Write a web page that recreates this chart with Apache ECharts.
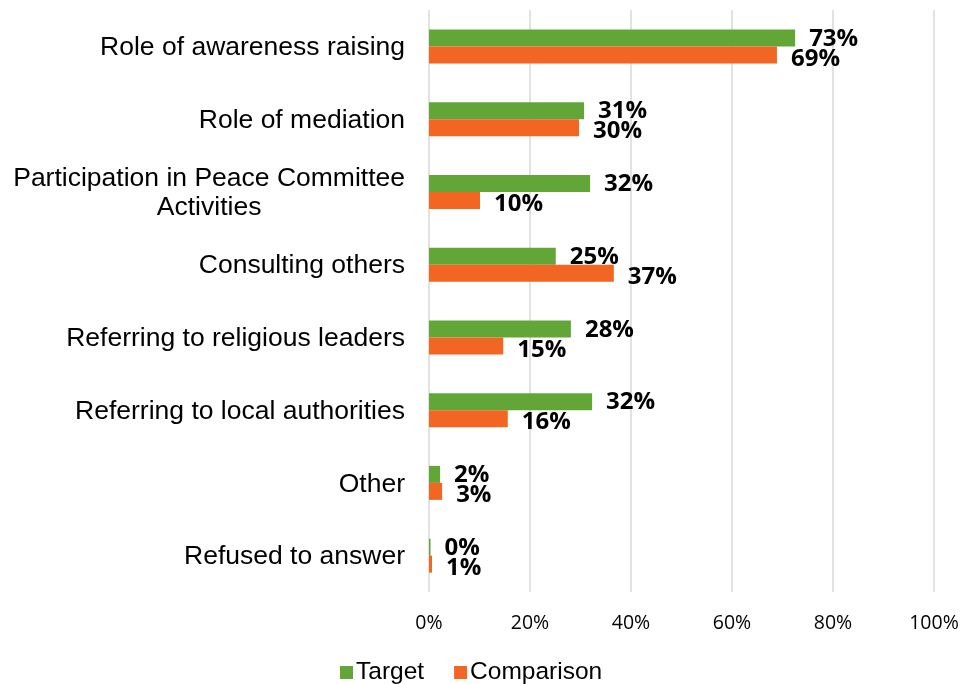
<!DOCTYPE html>
<html>
<head>
<meta charset="utf-8">
<script src="https://cdn.jsdelivr.net/npm/echarts@6/dist/echarts.min.js"></script>
<style>html,body{margin:0;padding:0;background:#fff;}#main{width:962px;height:684px;}</style>
</head>
<body>
<div id="main"></div>
<script>
var categories = ['Role of awareness raising', 'Role of mediation', 'Participation in Peace Committee\nActivities', 'Consulting others', 'Referring to religious leaders', 'Referring to local authorities', 'Other', 'Refused to answer'];
var targetValues = [72.5, 30.7, 31.9, 25.1, 28.1, 32.3, 2.2, 0.3];
var comparisonValues = [68.9, 29.7, 10.1, 36.6, 14.7, 15.6, 2.6, 0.6];
var xTicks = [0, 20, 40, 60, 80, 100];

var chart = echarts.init(document.getElementById('main'));
function labelStyle(dy) {
  return {
    show: true, position: 'right', distance: 14, offset: [0, dy],
    fontFamily: 'Open Sans', fontWeight: 'bold', fontSize: 24, color: '#000',
    formatter: function (p) { return Math.round(p.value) + '%'; }
  };
}
chart.setOption({
  animation: false,
  grid: { left: 429, right: 28, top: 10, bottom: 92, containLabel: false },
  legend: {
    left: 335, top: 655, itemWidth: 13, itemHeight: 13, itemGap: 30, icon: 'rect',
    textStyle: { fontFamily: 'Liberation Sans', fontSize: 24.5, color: '#000', padding: [0, 0, 0, -2] },
    data: ['Target', 'Comparison']
  },
  xAxis: {
    type: 'value', min: xTicks[0], max: xTicks[xTicks.length - 1], interval: 20,
    axisLine: { show: false }, axisTick: { show: false },
    splitLine: { show: true, lineStyle: { color: '#d9d9d9', width: 1.5 } },
    axisLabel: { margin: 21, fontFamily: 'Open Sans', fontSize: 19.5, color: '#000', formatter: '{value}%' }
  },
  yAxis: {
    type: 'category', inverse: true, data: categories,
    axisLine: { show: false }, axisTick: { show: false },
    axisLabel: {
      margin: 24, color: '#000', fontFamily: 'Liberation Sans', fontSize: 26.5,
      formatter: function (v) { return '{c|' + v.split('\n').join('}\n{c|') + '}'; },
      rich: { c: { fontFamily: 'Liberation Sans', fontSize: 26.5, color: '#000', align: 'center', lineHeight: 29, padding: [3, 0, 0, 0] } }
    }
  },
  series: [
    { name: 'Target', type: 'bar', data: targetValues, barWidth: 17, barGap: '0%',
      itemStyle: { color: '#63a638' }, label: labelStyle(1) },
    { name: 'Comparison', type: 'bar', data: comparisonValues, barWidth: 17, barGap: '0%',
      itemStyle: { color: '#f26522' }, label: labelStyle(4) }
  ]
});
</script>
</body>
</html>
